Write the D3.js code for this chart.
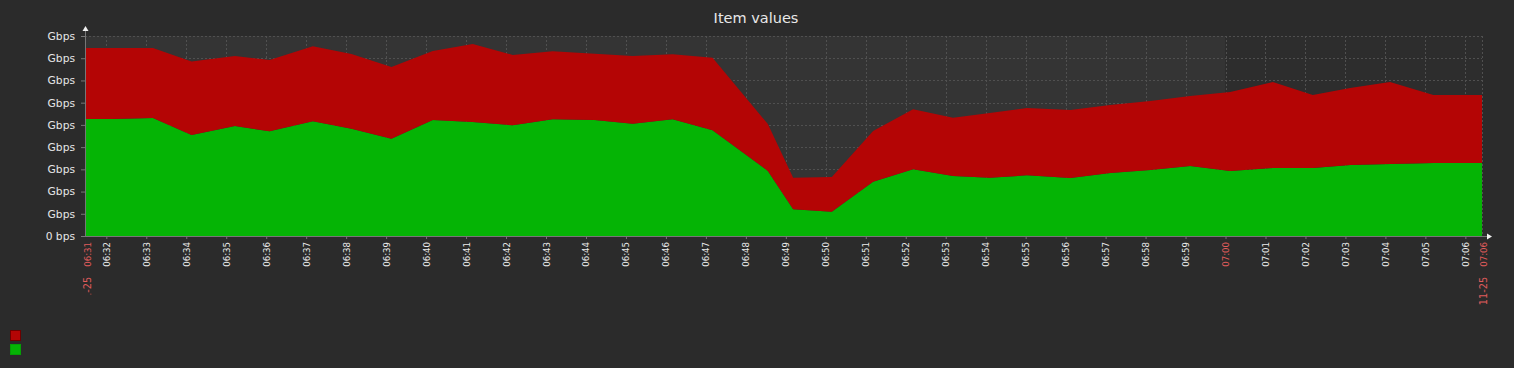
<!DOCTYPE html>
<html>
<head>
<meta charset="utf-8">
<script src="https://cdn.jsdelivr.net/npm/d3@7"></script>
<style>
  html, body { margin: 0; padding: 0; background: #2b2b2b; }
  svg { display: block; }
  text { font-family: "DejaVu Sans", sans-serif; }
</style>
</head>
<body>
<svg id="chart" width="1514" height="368"></svg>
<script>
// ---- data ----
const title = "Item values";
const day = "2024-11-25";
const times = [
  "06:31:28","06:32:10","06:33:10","06:34:08","06:35:13","06:36:05","06:37:10","06:38:08",
  "06:39:08","06:40:10","06:41:10","06:42:10","06:43:10","06:44:13","06:45:10","06:46:10",
  "06:47:10","06:48:33","06:49:11","06:50:09","06:51:11","06:52:11","06:53:11","06:54:06",
  "06:55:02","06:56:07","06:57:07","06:58:07","06:59:07","07:00:07","07:01:11","07:02:11",
  "07:03:07","07:04:07","07:05:12","07:06:25"
];
// bottom series (green), in grid units
const greenValues = [
  5.27,5.27,5.31,4.55,4.95,4.71,5.16,4.83,
  4.38,5.22,5.13,4.98,5.25,5.22,5.05,5.25,
  4.76,2.93,1.20,1.09,2.44,3.00,2.70,2.62,
  2.73,2.61,2.84,2.97,3.15,2.93,3.06,3.06,
  3.20,3.24,3.29,3.29
];
// stacked series (red)
const redValues = [
  3.19,3.19,3.15,3.30,3.15,3.21,3.38,3.36,
  3.23,3.11,3.51,3.17,3.06,2.98,3.05,2.93,
  3.26,2.11,1.42,1.57,2.29,2.70,2.62,2.92,
  3.03,3.06,3.06,3.11,3.15,3.55,3.87,3.29,
  3.46,3.69,3.06,3.06
];
const seriesColors = { red: "#b40505", green: "#05b405" };
const yTickValues = [0,1,2,3,4,5,6,7,8,9];
const yTickLabels = ["0 bps","Gbps","Gbps","Gbps","Gbps","Gbps","Gbps","Gbps","Gbps","Gbps"];
const startTime = "06:31:28", endTime = "07:06:25", workEnd = "07:00:00";
const startLabel = ["11-25", "06:31"], endLabel = ["11-25", "07:06"];

// ---- setup ----
const parse = d3.timeParse("%Y-%m-%d %H:%M:%S");
const T = s => parse(day + " " + s);
const rows = times.map((t, i) => ({ t: T(t), green: greenValues[i], red: redValues[i] }));

const svg = d3.select("#chart");
const L = 85, R = 1482, TOP = 36, BOT = 236;
const x = d3.scaleTime().domain([T(startTime), T(endTime)]).range([L, R]);
const y = d3.scaleLinear().domain([0, 9]).range([BOT, TOP]);

// title
svg.append("text").attr("x", 756).attr("y", 19).attr("text-anchor", "middle")
  .attr("dominant-baseline", "middle").attr("fill", "#e8e8e8").attr("font-size", 14.5)
  .text(title);

// plot backgrounds (lighter = working time, darker after 07:00)
svg.append("rect").attr("x", L).attr("y", TOP).attr("width", x(T(workEnd)) - L).attr("height", BOT - TOP)
  .attr("fill", "#343434");
svg.append("rect").attr("x", x(T(workEnd))).attr("y", TOP).attr("width", R - x(T(workEnd))).attr("height", BOT - TOP)
  .attr("fill", "#2d2d2d");

// grid
const minuteTicks = d3.timeMinute.every(1).range(T("06:32:00"), T("07:06:01"));
const grid = svg.append("g").attr("stroke", "#505050").attr("stroke-dasharray", "2,2").attr("stroke-width", 1);
yTickValues.forEach(v => {
  if (v === 0) return;
  grid.append("line").attr("x1", L).attr("x2", R).attr("y1", Math.round(y(v)) + 0.5).attr("y2", Math.round(y(v)) + 0.5);
});
minuteTicks.concat([T(endTime)]).forEach(t => {
  const xx = Math.round(x(t)) + 0.5;
  grid.append("line").attr("x1", xx).attr("x2", xx).attr("y1", TOP).attr("y2", BOT);
});

// stacked areas
const stack = d3.stack().keys(["green", "red"]);
const stacked = stack(rows);
const area = d3.area().x(d => x(d.data.t)).y0(d => y(d[0])).y1(d => y(d[1]));
svg.append("g").selectAll("path").data(stacked).join("path")
  .attr("d", area).attr("fill", d => seriesColors[d.key]);

// axes lines
const axisColor = "#777";
svg.append("line").attr("x1", L + 0.5).attr("x2", L + 0.5).attr("y1", 30).attr("y2", BOT + 1).attr("stroke", axisColor);
svg.append("line").attr("x1", L).attr("x2", R + 7).attr("y1", BOT + 0.5).attr("y2", BOT + 0.5).attr("stroke", axisColor);
svg.append("path").attr("d", `M${L + 0.5},26 L${L - 2.5},31 L${L + 3.5},31 Z`).attr("fill", "#f0f0f0");
svg.append("path").attr("d", `M${R + 10},${BOT + 0.5} L${R + 5},${BOT - 2.5} L${R + 5},${BOT + 3.5} Z`).attr("fill", "#f0f0f0");

// y axis ticks & labels
const yAxis = d3.axisLeft(y).tickValues(yTickValues).tickSize(4).tickPadding(6)
  .tickFormat((d, i) => yTickLabels[i]);
const gy = svg.append("g").attr("transform", `translate(${L},0)`).call(yAxis);
gy.select(".domain").remove();
gy.selectAll(".tick line").attr("stroke", axisColor);
gy.selectAll(".tick text").attr("fill", "#e6e6e6").attr("font-size", 10.7)
  .attr("font-family", "DejaVu Sans, sans-serif");

// x axis minute labels
const xAxis = d3.axisBottom(x).tickValues(minuteTicks).tickSize(3).tickPadding(0)
  .tickFormat(d3.timeFormat("%H:%M"));
const gx = svg.append("g").attr("transform", `translate(0,${BOT})`).call(xAxis);
gx.select(".domain").remove();
gx.selectAll(".tick line").attr("stroke", axisColor);
gx.selectAll(".tick text")
  .attr("transform", "rotate(-90)")
  .attr("text-anchor", "end")
  .attr("x", -6).attr("y", 0).attr("dy", "0.35em")
  .attr("font-size", 8.6).attr("font-family", "DejaVu Sans, sans-serif")
  .attr("fill", d => d.getMinutes() === 0 ? "#e05c5c" : "#ececec");

// start / end date labels (red), start one clipped
svg.append("clipPath").attr("id", "startclip").append("rect").attr("x", 0).attr("y", 0).attr("width", 200).attr("height", 294.5);
const addDateLabel = (parts, xx, clip) => {
  const parent = clip ? svg.append("g").attr("clip-path", "url(#startclip)") : svg;
  const t = parent.append("text")
    .attr("transform", `translate(${xx},242) rotate(-90)`)
    .attr("text-anchor", "end").attr("dy", "0.35em")
    .attr("font-size", 8.6).attr("fill", "#e05c5c");
  t.append("tspan").attr("font-size", 9.8).text(parts[0]);
  t.append("tspan").attr("dx", 10).text(parts[1]);
};
addDateLabel(startLabel, 88, true);
addDateLabel(endLabel, 1484, false);

// legend
const legend = svg.append("g");
legend.append("rect").attr("x", 10.5).attr("y", 330.5).attr("width", 10).attr("height", 10)
  .attr("fill", seriesColors.red).attr("stroke", "#6e0000");
legend.append("rect").attr("x", 10.5).attr("y", 344.5).attr("width", 10).attr("height", 10)
  .attr("fill", seriesColors.green).attr("stroke", "#05a005");
</script>
</body>
</html>
